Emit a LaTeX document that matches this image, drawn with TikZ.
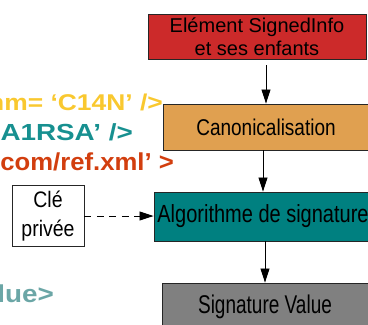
\documentclass[tikz,border=0pt]{standalone}
\usepackage{fontspec}
\setmainfont{Liberation Sans}
\usepackage{graphicx}
\usetikzlibrary{arrows.meta}
\definecolor{boxred}{HTML}{CC2A2A}
\definecolor{boxorange}{HTML}{E0A050}
\definecolor{boxteal}{HTML}{008080}
\definecolor{boxgray}{HTML}{808080}
\definecolor{codegold}{HTML}{F9C82F}
\definecolor{codeteal}{HTML}{179090}
\definecolor{codered}{HTML}{D23E0E}
\definecolor{codelight}{HTML}{6BA6A6}
\begin{document}
\begin{tikzpicture}[x=1pt,y=-1pt,
  box/.style={draw=black!85, line width=0.9pt, inner sep=0pt, text=black, font=\fontsize{19}{23}\selectfont},
  arr/.style={draw=black, line width=0.8pt, -{Triangle[length=14pt,width=9pt]}},
  code/.style={font=\fontsize{24}{24}\selectfont\bfseries, inner sep=0pt, anchor=base east}]
\useasboundingbox (0,0) rectangle (368,325);
\clip (0,0) rectangle (368,325);

% left code fragments
\node[code, text=codegold] (l1) at (163,110) {\scalebox{1.1}[0.95]{hm= ‘C14N’ />}};
\node[code, text=codeteal] (l2) at (133,140) {\scalebox{1.16}[0.97]{HA1RSA’ />}};
\node[code, text=codered] (l3) at (174,170) {\scalebox{1.07}[1.02]{com/ref.xml’ >}};
\node[code, text=codelight] (l4) at (54,302) {\scalebox{1.16}[1.02]{alue>}};

% boxes
\node[box, fill=boxred, minimum width=218pt, minimum height=45pt, align=center,
      font=\fontsize{20}{22.5}\selectfont] (info) at (257,36.5) {Elément SignedInfo\\et ses enfants};
\node[box, fill=boxorange, minimum width=206pt, minimum height=46pt] (canon) at (266,127)
      {\scalebox{1}[1.2]{Canonicalisation}};
\node[box, fill=boxteal, minimum width=218pt, minimum height=49pt,
      font=\fontsize{20}{24}\selectfont] (teal) at (263,216.5)
      {\scalebox{1}[1.24]{Algorithme de signature}};
\node[box, fill=boxgray, minimum width=206pt, minimum height=47pt] (sig) at (265,306.5)
      {\scalebox{1}[1.35]{Signature Value}};
\node[box, fill=white, minimum width=72pt, minimum height=61.5pt,
      font=\fontsize{19.5}{25}\selectfont] (cle) at (48,216)
      {\scalebox{1}[1.15]{\begin{tabular}{@{}c@{}}Clé\\privée\end{tabular}}};

% connectors
\draw[arr] ([yshift=-6pt]info.south -| canon.north) -- (canon.north);
\draw[arr] (canon.south -| teal.north) -- (teal.north);
\draw[arr] (teal.south -| sig.north) -- (sig.north);
\draw[arr, dash pattern=on 7pt off 5.5pt] (cle.east) -- (cle.east -| teal.west);
\end{tikzpicture}
\end{document}
